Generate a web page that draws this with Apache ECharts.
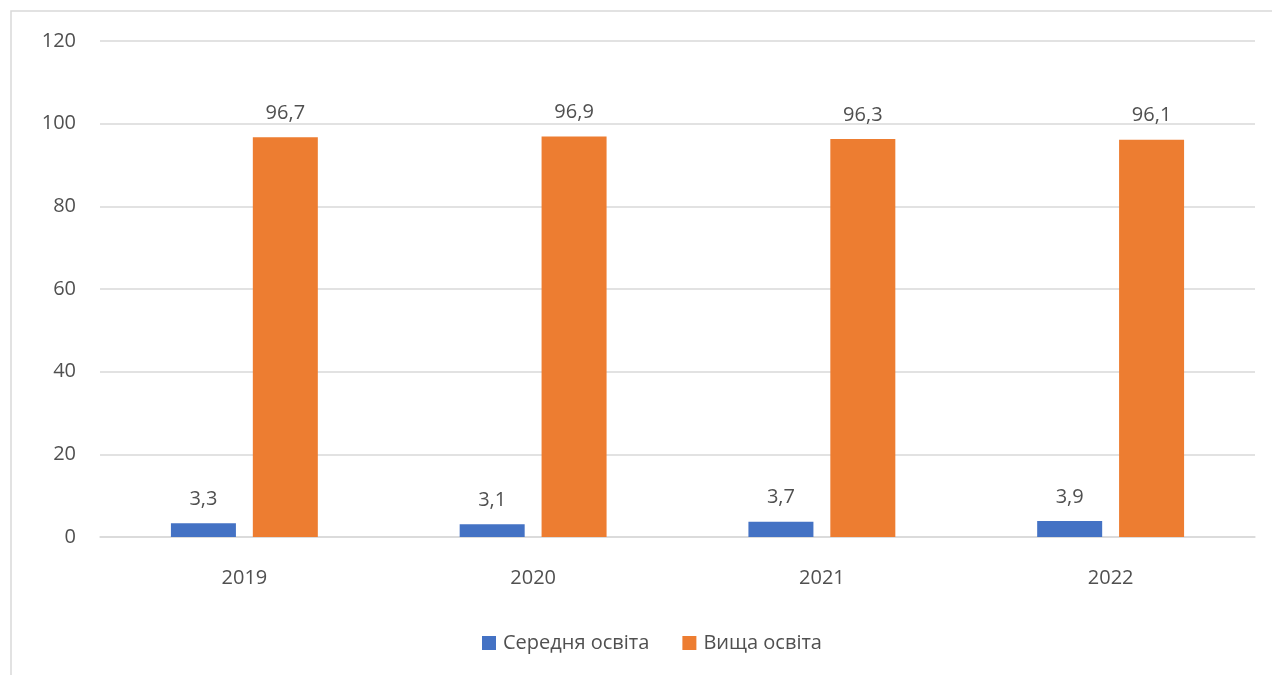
<!DOCTYPE html>
<html>
<head>
<meta charset="utf-8">
<title>Освіта</title>
<script src="https://cdn.jsdelivr.net/npm/echarts@6/dist/echarts.min.js"></script>
<style>
  html, body { margin: 0; padding: 0; background: #ffffff; }
  #chart { width: 1272px; height: 675px; }
</style>
</head>
<body>
<div id="chart"></div>
<script>
// Years on the category axis
const years = ['2019', '2020', '2021', '2022'];
// Share by education level, %
const secondary = [3.3, 3.1, 3.7, 3.9];
const higher = [96.7, 96.9, 96.3, 96.1];
const seriesNames = ['Середня освіта', 'Вища освіта'];

const textColor = '#505050';
const gridColor = '#d9d9d9';
const font = '"Open Sans", "Noto Sans", sans-serif';

const commaLabel = p => String(p.value).replace('.', ',');

const chart = echarts.init(document.getElementById('chart'), null, { renderer: 'canvas' });

chart.setOption({
  backgroundColor: '#ffffff',
  animation: false,
  textStyle: { fontFamily: font },
  graphic: [{
    type: 'rect',
    silent: true,
    shape: { x: 11, y: 11, width: 1300, height: 700 },
    style: { fill: 'none', stroke: gridColor, lineWidth: 1.5 }
  }],
  grid: { left: 100, right: 17, top: 41, bottom: 138, containLabel: false },
  legend: {
    data: seriesNames,
    left: 482,
    top: 633,
    padding: 0,
    itemWidth: 14,
    itemHeight: 14,
    itemGap: 33,
    icon: 'rect',
    textStyle: { color: textColor, fontSize: 20, fontFamily: font, padding: [0, 0, 0, 2] }
  },
  xAxis: {
    type: 'category',
    data: years,
    axisLine: { show: true, lineStyle: { color: gridColor, width: 1.5 } },
    axisTick: { show: false },
    axisLabel: { color: textColor, fontSize: 20, fontFamily: font, margin: 31 }
  },
  yAxis: {
    type: 'value',
    min: 0,
    max: 120,
    interval: 20,
    axisLine: { show: false },
    axisTick: { show: false },
    axisLabel: { color: textColor, fontSize: 20, fontFamily: font, margin: 24 },
    splitLine: { lineStyle: { color: gridColor, width: 1.5 } }
  },
  series: [
    {
      name: seriesNames[0],
      type: 'bar',
      data: secondary,
      barWidth: 65,
      barGap: '26%',
      itemStyle: { color: '#4472C4' },
      label: {
        show: true, position: 'top', distance: 14,
        color: textColor, fontSize: 20, fontFamily: font,
        formatter: commaLabel
      }
    },
    {
      name: seriesNames[1],
      type: 'bar',
      data: higher,
      barWidth: 65,
      barGap: '26%',
      itemStyle: { color: '#ED7D31' },
      label: {
        show: true, position: 'top', distance: 14,
        color: textColor, fontSize: 20, fontFamily: font,
        formatter: commaLabel
      }
    }
  ]
});
</script>
</body>
</html>
